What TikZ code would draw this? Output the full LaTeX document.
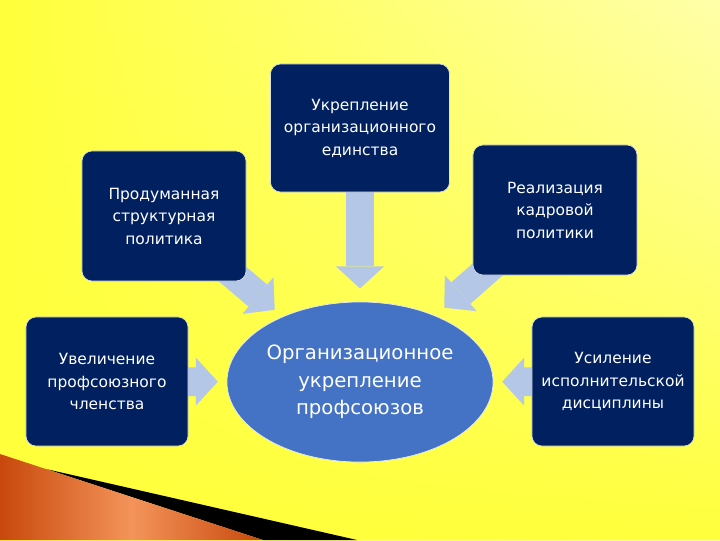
\documentclass[tikz,border=0pt]{standalone}
\usepackage{fontspec}
\setmainfont{DejaVu Sans}
\usepackage{xcolor}
\usetikzlibrary{arrows.meta,fadings,shapes.geometric}
\definecolor{navybox}{HTML}{002060}
\definecolor{coreblue}{HTML}{4472C4}
\definecolor{arrowblue}{HTML}{B4C7E7}
\definecolor{bgyellow}{HTML}{FFFF3C}
\definecolor{bgpale}{HTML}{FFFFAA}
\definecolor{orangedark}{HTML}{C8480C}
\definecolor{orangelight}{HTML}{F4945A}
\pgfdeclarelayer{back}
\pgfdeclarelayer{arrows}
\pgfsetlayers{back,arrows,main}

\begin{document}
\begin{tikzpicture}[x=0.025cm, y=-0.025cm,
    topicbox/.style={rectangle, rounded corners=0.25cm, fill=navybox, draw=white!85!navybox,
        line width=0.5pt, text=white, align=center, inner sep=2pt,
        font=\fontsize{11}{16}\selectfont},
    coreoval/.style={ellipse, fill=coreblue, draw=white!85!coreblue, line width=0.5pt,
        text=white, align=center, inner sep=0pt, minimum width=6.65cm, minimum height=4cm,
        font=\fontsize{14}{19.5}\selectfont},
    flowarrow/.style={arrowblue, line width=0.72cm, shorten <=-0.5cm,
        -{Triangle[width=1.2cm, length=0.55cm, line width=0pt]}}]
    \useasboundingbox (0,0) rectangle (720,540);

    % Background
    \begin{pgfonlayer}{back}
        \shade[left color=bgyellow, right color=bgpale] (0,0) rectangle (720,540);
        \fill[bgyellow, path fading=north] (0,0) rectangle (720,540);
        % Corner ribbon
        \fill[black] (46,469) -- (357,540) -- (263,540) -- cycle;
        \shade[left color=orangedark, right color=orangedark, middle color=orangelight]
            (0,454) -- (263,540) -- (0,540) -- cycle;
    \end{pgfonlayer}

    % Central goal
    \node[coreoval] (core) at (360,382) {Организационное\\укрепление\\профсоюзов};

    % Directions
    \node[topicbox, minimum width=4.475cm, minimum height=3.2cm] (unity) at (360,128)
        {Укрепление\\организационного\\единства};
    \node[topicbox, minimum width=4.1cm, minimum height=3.25cm] (structpol) at (164,216)
        {Продуманная\\структурная\\политика};
    \node[topicbox, minimum width=4.1cm, minimum height=3.25cm] (cadre) at (555,210)
        {Реализация\\кадровой\\политики};
    \node[topicbox, minimum width=4.05cm, minimum height=3.225cm] (members) at (107,381.5)
        {Увеличение\\профсоюзного\\членства};
    \node[topicbox, minimum width=4.05cm, minimum height=3.225cm] (discipline) at (613,381.5)
        {Усиление\\исполнительской\\дисциплины};

    % Arrows into the centre
    \begin{pgfonlayer}{arrows}
        \foreach \src/\gap in {unity/0.33cm, structpol/0.26cm, cadre/0.3cm,
                               members/0.22cm, discipline/0.22cm} {
            \draw[flowarrow, shorten >=\gap] (\src) -- (core);
        }
    \end{pgfonlayer}
\end{tikzpicture}
\end{document}
